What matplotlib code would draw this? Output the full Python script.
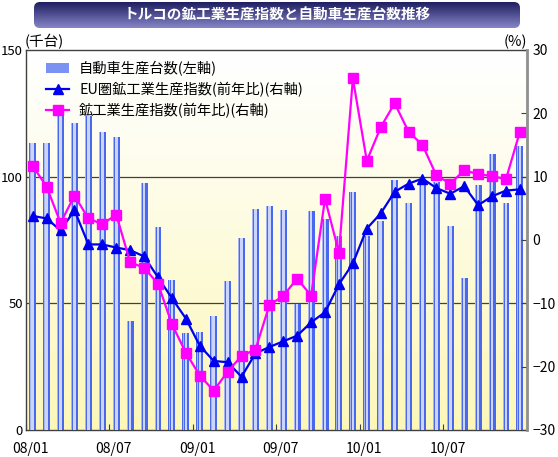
#-------------------------------------------------------------------------------------
# トルコの鉱工業生産指数と自動車生産台数推移 を再現する

import numpy as np
from matplotlib import pyplot as plt
import matplotlib.transforms as mtransforms
from matplotlib.patches import FancyBboxPatch, Patch
from matplotlib.lines import Line2D

plt.rcParams['font.family'] = ['Noto Sans CJK JP', 'DejaVu Sans']

#-------------データ（08/01〜10/12 月次）-------------
months = ["%02d/%02d" % (y, m) for y in (8, 9, 10) for m in range(1, 13)]
tick_labels = ["08/01", "08/07", "09/01", "09/07", "10/01", "10/07"]

# 自動車生産台数（千台、左軸）
car_prod = [113.2, 113.2, 124.6, 121.1, 124.1, 117.5, 115.5, 43.2, 97.6, 80.3, 59.2, 38.2,
            38.6, 44.9, 58.7, 75.7, 87.1, 88.6, 86.9, 49.6, 86.5, 83.2, 76.7, 93.8,
            76.7, 82.5, 98.8, 89.7, 99.0, 98.0, 80.6, 60.1, 96.7, 109.0, 89.7, 112.1]

# EU圏鉱工業生産指数（前年比、%、右軸）
eu_ip = [3.8, 3.4, 1.5, 4.7, -0.7, -0.7, -1.2, -1.6, -2.6, -5.9, -9.2, -12.4,
         -16.7, -19.1, -19.3, -21.6, -17.9, -16.9, -16.0, -15.1, -13.0, -11.4, -7.0, -3.7,
         1.8, 4.2, 7.6, 8.9, 9.7, 8.2, 7.3, 8.5, 5.5, 6.9, 7.8, 8.0]

# トルコ鉱工業生産指数（前年比、%、右軸）
tr_ip = [11.7, 8.4, 2.7, 7.0, 3.4, 2.5, 4.0, -3.5, -4.4, -6.9, -13.3, -17.8,
         -21.4, -23.8, -20.8, -18.3, -17.3, -10.3, -8.8, -6.1, -8.8, 6.5, -2.0, 25.5,
         12.5, 17.8, 21.6, 17.1, 15.0, 10.2, 8.9, 11.0, 10.4, 10.1, 9.6, 17.1]

x = np.arange(len(months))

#-------------図の準備-------------
fig = plt.figure(figsize=(5.58, 4.57), dpi=100)
fig.patch.set_facecolor("white")
ax = fig.add_axes([0.0462, 0.0591, 0.898, 0.8315])

# 背景のグラデーション（上：白 → 下：薄い黄色）
grad = np.linspace(0, 1, 256).reshape(-1, 1)
top_c = np.array([1.0, 1.0, 1.0])
bot_c = np.array([0.99, 0.97, 0.72])
bg = top_c + (bot_c - top_c) * grad[:, :, None] ** 1.1
ax.imshow(bg, extent=[-0.5, 35.5, 0, 150], aspect="auto", origin="upper", zorder=0)

#-------------棒グラフ（左軸）-------------
ax.bar(x, car_prod, width=0.5, color="#4a68ee", zorder=2)
ax.bar(x, car_prod, width=0.18, color="#cbd5fb", zorder=3)
ax.bar(x - 0.19, car_prod, width=0.07, color="#a4b4f6", zorder=3)

ax.set_xlim(-0.5, 35.5)
ax.set_ylim(0, 150)
ax.set_yticks([0, 50, 100, 150])
for yv in (50, 100):
    ax.axhline(yv, color="#404040", lw=0.9, zorder=1.5)

ax.set_xticks([i - 0.5 for i in range(0, 36, 6)])
ax.set_xticklabels(tick_labels)
ax.tick_params(axis="x", direction="in", length=4, color="#404040", labelsize=10, pad=9)
ax.tick_params(axis="y", direction="in", length=0, labelsize=9.5, pad=2)
offset = mtransforms.ScaledTranslation(-14 / 100.0, 0, fig.dpi_scale_trans)
for lab in ax.get_xticklabels():
    lab.set_horizontalalignment("left")
    lab.set_transform(lab.get_transform() + offset)

for s in ("left", "bottom", "top"):
    ax.spines[s].set_color("#404040")
    ax.spines[s].set_linewidth(1.0)

#-------------折れ線（右軸）-------------
ax2 = ax.twinx()
ax2.set_ylim(-30, 30)
ax2.set_yticks(range(-30, 31, 10))
ax2.set_yticklabels(["\u221230", "\u221220", "\u221210", "0", "10", "20", "30"])
ax2.tick_params(axis="y", direction="in", length=4, color="#404040", labelsize=10, pad=4)
ax2.spines["right"].set_color("#909090")
ax2.spines["right"].set_linewidth(2.0)
for s in ("left", "bottom", "top"):
    ax2.spines[s].set_visible(False)

ax2.plot(x, eu_ip, color="#0000ee", lw=1.6, marker="^", markersize=7, zorder=4)
ax2.plot(x, tr_ip, color="#ff00ff", lw=1.6, marker="s", markersize=7, zorder=5)

#-------------凡例-------------
handles = [Patch(facecolor="#7b92f2", edgecolor="none"),
           Line2D([], [], color="#0000ee", lw=1.6, marker="^", markersize=7),
           Line2D([], [], color="#ff00ff", lw=1.6, marker="s", markersize=7)]
labels = ["自動車生産台数(左軸)", "EU圏鉱工業生産指数(前年比)(右軸)", "鉱工業生産指数(前年比)(右軸)"]
ax2.legend(handles, labels, loc="upper left", bbox_to_anchor=(0.015, 1.005), frameon=False,
           fontsize=10.3, handlelength=1.6, handletextpad=0.7, labelspacing=0.42)

#-------------単位-------------
fig.text(25 / 558, 1 - 42 / 457, "(千台)", fontsize=10.5, ha="left", va="center")
fig.text(527 / 558, 1 - 42 / 457, "(%)", fontsize=10.5, ha="right", va="center")

#-------------タイトル（角丸の紺色ボックス）-------------
tax = fig.add_axes([0, 0, 1, 1], zorder=-1)
tax.set_xlim(0, 558)
tax.set_ylim(457, 0)
tax.axis("off")
box = FancyBboxPatch((34, 2), 486, 26, boxstyle="round,pad=0,rounding_size=6",
                     facecolor="none", edgecolor="none")
tax.add_patch(box)
tg = np.linspace(0, 1, 64).reshape(-1, 1)
c1 = np.array([0.12, 0.12, 0.38])
c2 = np.array([0.52, 0.52, 0.78])
tbg = c1 + (c2 - c1) * tg[:, :, None]
im = tax.imshow(tbg, extent=[34, 520, 28, 2], aspect="auto", origin="upper")
im.set_clip_path(box)
tax.text(277, 15, "トルコの鉱工業生産指数と自動車生産台数推移", color="white",
         fontsize=10.5, fontweight="bold", ha="center", va="center")

plt.savefig("out.png", dpi=100)
